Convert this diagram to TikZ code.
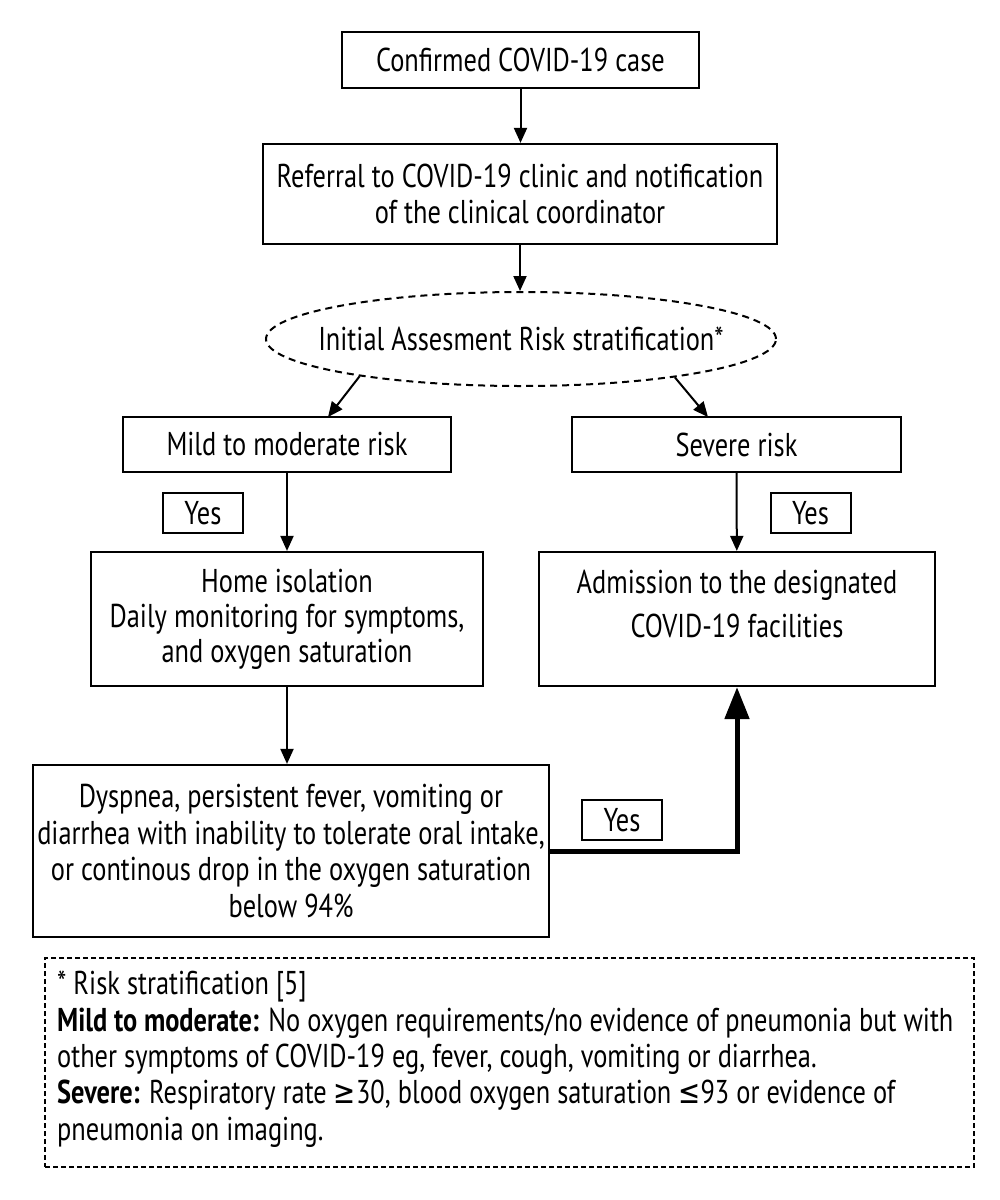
\documentclass[tikz,border=0pt]{standalone}
\usepackage{fontspec}
\setmainfont{PT Sans}[FakeStretch=0.8]
\newfontfamily\symf{DejaVu Sans}[FakeStretch=0.8]
\usetikzlibrary{shapes.geometric,arrows.meta}
\begin{document}
\begin{tikzpicture}[x=1pt,y=-1pt,
  every node/.style={font=\fontsize{33}{36}\selectfont},
  box/.style={draw, line width=2.2pt, inner sep=0pt, align=center},
  ybox/.style={draw, line width=2pt, minimum width=80pt, minimum height=40pt, inner sep=0pt},
  arr/.style={line width=2pt, -{Triangle[length=15pt,width=13pt]}},
  tarr/.style={line width=5pt, -{Triangle[length=32pt,width=24pt]}},
]
\useasboundingbox (0,0) rectangle (1000,1200);
\fill[white] (0,0) rectangle (1000,1200);

\node[box, minimum width=357pt, minimum height=56pt] (b1) at (520.5,60) {Confirmed COVID-19 case};
\node[box, minimum width=514pt, minimum height=100pt] (b2) at (520,194) {Referral to COVID-19 clinic and notification\\of the clinical coordinator};
\node[draw, ellipse, dash pattern=on 7pt off 5pt, line width=2pt, minimum width=510pt, minimum height=94pt, inner sep=0pt] (ell) at (521,339) {};
\node[inner sep=0pt] (ellt) at (521,339) {Initial Assesment Risk stratification*};
\node[box, minimum width=328pt, minimum height=55pt] (mild) at (287,444.5) {Mild to moderate risk};
\node[box, minimum width=329pt, minimum height=55pt] (sev) at (736.5,444.5) {Severe risk};
\node[ybox] (y1) at (203,513) {Yes};
\node[ybox] (y2) at (810.5,513) {Yes};
\node[box, minimum width=392pt, minimum height=134pt, font=\fontsize{33}{35}\selectfont] (home) at (287,619) {Home isolation\\Daily monitoring for symptoms,\\and oxygen saturation};
\node[box, minimum width=396pt, minimum height=134pt] (adm) at (737,619) {};
\node[inner sep=0pt, align=center, font=\fontsize{33}{44}\selectfont] (admt) at (737,604) {Admission to the designated\\COVID-19 facilities};
\node[box, minimum width=516pt, minimum height=172pt, font=\fontsize{33}{36.7}\selectfont] (dys) at (291,851) {Dyspnea, persistent fever, vomiting or\\diarrhea with inability to tolerate oral intake,\\or continous drop in the oxygen saturation\\below 94\%};
\node[ybox] (y3) at (622,820) {Yes};
\node[draw, dash pattern=on 5pt off 3pt, line width=1.8pt, minimum width=929pt, minimum height=209pt, inner sep=0pt] (fn) at (509.5,1062.5) {};
\node[anchor=north west, inner sep=0pt, align=left, font=\fontsize{33}{36.3}\selectfont] (fnt) at (57,971) {* Risk stratification [5]\\\textbf{Mild to moderate:} No oxygen requirements/no evidence of pneumonia but with\\other symptoms of COVID-19 eg, fever, cough, vomiting or diarrhea.\\\textbf{Severe:} Respiratory rate {\symf ≥}30, blood oxygen saturation {\symf ≤}93 or evidence of\\pneumonia on imaging.};

\coordinate (mlt) at (328,417);
\coordinate (srt) at (708,417);

\draw[arr] (b1.south) -- (b1.south |- b2.north);
\draw[arr] (b2.south) -- (b2.south |- ell.north);
\draw[arr] (ell.193) -- (mlt);
\draw[arr] (ell.-14) -- (srt);
\draw[arr] (mild) -- (home);
\draw[arr] (sev) -- (adm);
\draw[arr] (home.south) -- (home.south |- dys.north);
\draw[tarr] (dys.east) -| (adm.south);
\end{tikzpicture}
\end{document}
